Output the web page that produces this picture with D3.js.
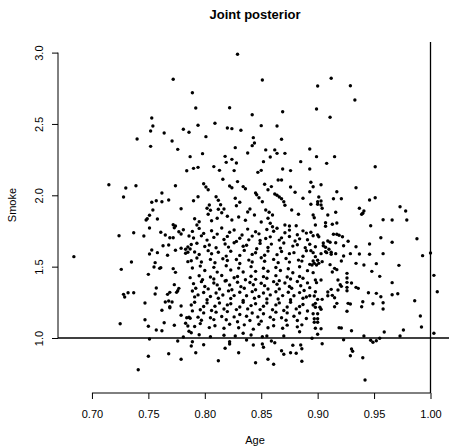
<!DOCTYPE html>
<html>
<head>
<meta charset="utf-8">
<script src="https://cdn.jsdelivr.net/npm/d3@7"></script>
<style>
  body { margin: 0; background: #fff; }
  svg { display: block; font-family: "Liberation Sans", Arial, sans-serif; }
</style>
</head>
<body>
<svg width="449" height="447"></svg>
<script>
// posterior draws, Age vs Smoke coefficient
const age = [
  0.772,0.753,0.754,0.752,0.764,0.781,0.786,0.740,0.771,0.752,0.776,0.787,
  0.829,0.851,0.789,0.792,0.822,0.869,0.842,0.794,0.809,0.820,0.824,0.832,0.850,0.864,0.801,0.843,0.868,0.844,
  0.842,0.827,0.854,0.862,0.893,0.798,0.818,0.838,0.858,0.864,0.871,0.824,
  0.912,0.900,0.929,0.933,0.899,0.911,0.899,0.915,
  0.784,0.715,0.730,0.739,0.774,0.728,0.762,0.753,0.757,0.762,0.768,0.779,0.754,0.751,0.748,0.749,0.758,0.751,
  0.772,0.774,0.773,0.781,0.777,0.761,0.779,0.737,0.724,0.746,0.765,0.786,0.769,0.772,0.684,0.763,0.768,0.779,
  0.783,0.785,0.787,0.774,0.753,0.751,0.758,0.767,0.783,0.785,0.785,0.756,0.735,0.726,0.760,0.761,0.772,0.774,
  0.755,0.750,
  0.757,0.773,0.777,0.776,0.775,0.769,0.767,0.756,0.728,0.729,0.732,0.737,0.747,0.765,0.768,0.771,0.769,0.769,
  0.779,0.762,0.779,0.784,0.786,0.747,0.725,0.764,0.783,0.785,0.750,0.773,0.757,0.762,0.786,0.781,0.751,0.776,
  0.768,0.750,0.779,0.741,
  0.896,0.913,0.948,0.926,0.955,1.003,0.898,0.899,0.903,0.918,0.926,0.920,0.921,0.926,0.930,0.926,0.934,0.936,
  0.966,0.893,1.006,0.898,0.909,0.912,0.918,0.926,0.945,0.952,0.966,0.971,0.893,0.897,0.900,0.904,0.909,0.913,
  0.915,0.956,0.898,0.896,0.898,0.902,0.903,0.917,0.915,0.927,0.929,0.940,0.939,0.949,0.958,0.958,0.986,0.926,
  0.896,0.900,0.897,0.900,0.897,0.900,0.991,0.898,0.903,0.919,0.921,0.930,0.959,0.976,0.992,0.900,0.941,0.973,
  1.003,0.895,0.923,0.947,0.949,0.952,0.955,0.904,0.930,0.931,0.929,0.940,0.942,
  0.951,0.893,0.908,0.894,0.896,0.903,0.934,0.917,0.893,0.901,0.914,0.921,0.951,0.946,0.900,0.903,0.900,0.903,
  0.894,0.904,0.937,0.941,0.939,0.940,0.973,0.978,0.896,0.897,0.909,0.916,0.958,0.966,0.979,0.907,0.907,0.913,
  0.917,0.898,0.947,0.894,0.896,0.900,0.901,0.914,0.917,0.919,0.922,0.956,0.988,0.893,0.898,0.905,0.909,0.911,
  0.916,0.927,0.923,0.946,0.966,0.905,0.907,0.910,0.934,0.894,0.896,0.903,0.907,0.908,0.912,0.916,0.912,0.929,
  0.937,0.946,0.958,0.993,1.000,0.898,0.923,0.896,0.904,0.900,0.911,0.921,0.934,0.941,0.952,0.972,0.893,0.895,
  0.897,0.899,0.901,0.915,0.917,
  // central band, upper half
  0.819,0.828,0.852,0.885,0.790,0.794,0.808,0.813,0.826,0.847,0.850,0.869,0.876,
  0.816,0.829,0.865,0.868,0.799,0.801,0.803,0.822,0.824,0.834,0.836,0.853,0.856,0.859,0.876,0.880,
  0.794,0.790,0.810,0.812,0.827,0.831,0.828,0.845,0.846,0.848,0.851,0.862,0.864,0.866,0.868,0.870,0.871,0.887,
  0.804,0.802,0.805,0.803,0.814,0.812,0.817,0.815,0.838,0.840,0.854,0.857,0.860,
  0.791,0.795,0.793,0.806,0.811,0.824,0.830,0.836,0.850,0.856,0.858,0.860,0.871,0.875,0.881,0.820,0.844,0.883,0.877,
  0.789,0.795,0.799,0.806,0.811,0.815,0.822,0.826,0.833,0.838,0.845,0.848,0.855,0.861,0.864,0.871,0.875,0.882,0.887,0.890,
  0.790,0.797,0.802,0.808,0.817,0.820,0.828,0.831,0.839,0.842,0.849,0.854,0.858,0.866,0.868,0.875,0.880,0.884,0.891,
  0.788,0.793,0.800,0.804,0.810,0.818,0.821,0.826,0.834,0.837,0.846,0.849,0.856,0.859,0.867,0.870,0.878,0.882,0.889,
  0.791,0.795,0.803,0.806,0.812,0.819,0.823,0.831,0.835,0.842,0.845,0.853,0.856,0.864,0.868,0.875,0.879,0.887,0.890,
  0.788,0.793,0.797,0.805,0.809,0.816,0.820,0.828,0.831,0.839,0.842,0.850,0.853,0.861,0.865,0.872,0.875,0.883,0.886,
  0.789,0.796,0.800,0.808,0.811,0.819,0.823,0.830,0.834,0.841,0.845,0.852,0.856,0.863,0.867,0.874,0.878,0.884,0.891,
  // central band, lower half
  0.787,0.795,0.798,0.805,0.808,0.815,0.819,0.826,0.829,0.836,0.841,0.845,0.852,0.855,0.863,0.866,0.873,0.876,0.884,0.887,
  0.790,0.797,0.800,0.808,0.811,0.818,0.822,0.829,0.832,0.840,0.843,0.850,0.853,0.861,0.864,0.871,0.875,0.882,0.885,0.891,
  0.789,0.792,0.799,0.803,0.810,0.813,0.821,0.824,0.831,0.835,0.842,0.845,0.852,0.856,0.863,0.866,0.874,0.877,0.884,0.888,
  0.791,0.794,0.802,0.805,0.812,0.816,0.823,0.826,0.834,0.837,0.844,0.848,0.855,0.858,0.865,0.869,0.876,0.879,0.887,0.890,
  0.788,0.791,0.799,0.802,0.809,0.813,0.820,0.823,0.831,0.834,0.841,0.845,0.852,0.855,0.863,0.866,0.873,0.876,0.884,0.887,
  0.789,0.796,0.799,0.806,0.810,0.817,0.820,0.828,0.831,0.838,0.842,0.849,0.852,0.860,0.863,0.870,0.873,0.881,0.884,0.891,
  0.787,0.794,0.797,0.805,0.808,0.815,0.819,0.826,0.829,0.837,0.840,0.847,0.850,0.858,0.861,0.868,0.872,0.879,0.882,0.890,
  0.791,0.796,0.804,0.809,0.817,0.822,0.830,0.835,0.843,0.848,0.856,0.861,0.869,0.873,0.882,0.886,
  0.788,0.795,0.805,0.817,0.827,0.834,0.841,0.851,0.855,0.870,0.884,
  0.789,0.788,0.792,0.799,0.812,0.818,0.822,0.822,0.830,0.837,0.845,0.843,0.851,0.852,0.856,0.861,0.859,0.862,
  0.868,0.870,0.876,0.878,0.881,0.885,0.886,0.886
];
const smoke = [
  2.813,2.542,2.486,2.451,2.437,2.463,2.442,2.395,2.381,2.343,2.322,2.271,
  2.988,2.808,2.719,2.612,2.614,2.586,2.565,2.491,2.505,2.472,2.467,2.456,2.488,2.486,2.411,2.404,2.393,2.367,
  2.348,2.334,2.318,2.318,2.325,2.292,2.273,2.296,2.268,2.294,2.294,2.252,
  2.820,2.766,2.768,2.668,2.605,2.547,2.271,2.271,
  2.172,2.074,2.051,2.067,2.067,1.988,2.016,1.951,1.962,1.955,1.967,1.906,1.897,1.860,1.827,1.836,1.834,1.771,
  1.794,1.785,1.773,1.759,1.745,1.741,1.729,1.738,1.717,1.715,1.722,1.715,1.703,1.703,1.570,1.647,1.652,1.629,
  1.622,1.638,1.624,1.615,1.617,1.589,1.598,1.580,1.594,1.601,1.535,1.528,1.533,1.481,1.488,1.493,1.486,1.460,
  1.498,1.446,
  1.350,1.374,1.348,1.331,1.320,1.320,1.306,1.308,1.306,1.287,1.317,1.317,1.245,1.252,1.259,1.252,1.219,1.212,
  1.224,1.194,1.159,1.142,1.145,1.128,1.100,1.107,1.103,1.084,1.082,1.089,1.056,1.051,1.047,1.007,0.993,0.979,
  0.890,0.872,0.851,0.778,
  1.458,1.463,1.467,1.453,1.432,1.439,1.406,1.388,1.406,1.406,1.420,1.374,1.362,1.390,1.385,1.355,1.355,1.348,
  1.388,1.353,1.324,1.324,1.322,1.341,1.336,1.331,1.317,1.313,1.303,1.310,1.296,1.294,1.271,1.271,1.296,1.299,
  1.282,1.289,1.243,1.231,1.215,1.215,1.201,1.243,1.219,1.243,1.238,1.254,1.219,1.240,1.247,1.203,1.261,1.187,
  1.170,1.170,1.135,1.135,1.110,1.110,1.154,1.068,1.065,1.072,1.070,1.051,1.042,1.056,1.077,1.026,1.014,1.014,
  1.033,0.998,0.988,0.984,0.970,0.981,0.998,0.960,0.923,0.907,0.876,0.862,0.706,
  2.200,2.184,2.224,2.091,2.060,2.074,2.053,2.025,2.025,1.988,1.976,1.976,1.983,1.967,1.955,1.960,1.937,1.932,
  1.937,1.909,1.909,1.890,1.867,1.874,1.920,1.890,1.862,1.843,1.862,1.881,1.829,1.827,1.827,1.808,1.783,1.797,
  1.806,1.792,1.787,1.741,1.717,1.722,1.710,1.727,1.727,1.720,1.710,1.703,1.696,1.657,1.640,1.666,1.680,1.671,
  1.668,1.678,1.647,1.659,1.671,1.647,1.636,1.622,1.640,1.612,1.598,1.591,1.605,1.598,1.601,1.591,1.587,1.591,
  1.589,1.587,1.591,1.577,1.596,1.570,1.575,1.540,1.535,1.545,1.514,1.540,1.523,1.512,1.521,1.509,1.516,1.512,
  1.523,1.512,1.523,1.488,1.479,
  // central band, upper half
  2.231,2.226,2.236,2.236,2.189,2.196,2.201,2.175,2.173,2.161,2.175,2.184,2.173,
  2.112,2.096,2.107,2.107,2.081,2.058,2.039,2.065,2.053,2.061,2.046,2.077,2.039,2.061,2.058,2.021,
  1.990,1.962,1.990,1.965,1.979,1.951,1.927,2.016,2.004,1.983,1.955,2.009,2.000,1.988,1.976,1.955,1.930,1.979,
  1.932,1.909,1.895,1.867,1.934,1.902,1.904,1.878,1.883,1.904,1.897,1.881,1.862,
  1.836,1.815,1.792,1.822,1.839,1.827,1.848,1.825,1.813,1.839,1.804,1.780,1.792,1.785,1.787,1.853,1.862,1.867,1.897,
  1.747,1.768,1.733,1.752,1.728,1.771,1.741,1.757,1.722,1.763,1.745,1.730,1.760,1.748,1.769,1.738,1.756,1.724,1.751,1.735,
  1.701,1.716,1.686,1.705,1.690,1.712,1.677,1.699,1.688,1.714,1.683,1.697,1.709,1.686,1.702,1.711,1.680,1.695,1.689,
  1.655,1.664,1.641,1.652,1.632,1.659,1.637,1.667,1.643,1.650,1.625,1.663,1.634,1.658,1.630,1.666,1.644,1.653,1.633,
  1.603,1.585,1.612,1.590,1.601,1.574,1.608,1.579,1.614,1.586,1.597,1.580,1.609,1.584,1.606,1.591,1.598,1.573,1.611,
  1.541,1.561,1.533,1.551,1.527,1.555,1.543,1.550,1.522,1.546,1.533,1.562,1.538,1.551,1.528,1.557,1.532,1.546,1.539,
  1.491,1.504,1.473,1.495,1.462,1.506,1.477,1.490,1.463,1.500,1.467,1.489,1.468,1.494,1.473,1.485,1.457,1.499,1.472,
  // central band, lower half
  1.423,1.436,1.409,1.427,1.414,1.438,1.403,1.422,1.431,1.408,1.433,1.411,1.430,1.419,1.437,1.402,1.428,1.413,1.431,1.419,
  1.381,1.395,1.361,1.385,1.372,1.399,1.371,1.391,1.360,1.389,1.373,1.384,1.367,1.395,1.377,1.385,1.361,1.396,1.366,1.386,
  1.329,1.349,1.319,1.344,1.315,1.343,1.330,1.338,1.321,1.349,1.325,1.338,1.315,1.343,1.324,1.344,1.321,1.349,1.318,1.333,
  1.288,1.302,1.268,1.291,1.279,1.301,1.277,1.297,1.263,1.296,1.279,1.291,1.274,1.302,1.273,1.297,1.268,1.296,1.279,1.287,
  1.231,1.251,1.221,1.246,1.223,1.245,1.232,1.240,1.217,1.251,1.227,1.240,1.223,1.245,1.232,1.246,1.217,1.251,1.221,1.235,
  1.190,1.198,1.176,1.193,1.181,1.203,1.185,1.199,1.165,1.204,1.175,1.199,1.170,1.198,1.181,1.193,1.176,1.204,1.175,1.189,
  1.138,1.146,1.124,1.142,1.129,1.151,1.128,1.148,1.114,1.152,1.123,1.148,1.118,1.146,1.129,1.142,1.124,1.152,1.123,1.137,
  1.081,1.101,1.073,1.086,1.068,1.096,1.072,1.092,1.062,1.096,1.072,1.086,1.068,1.090,1.078,1.092,
  1.037,1.023,1.009,1.019,1.014,1.033,1.021,1.009,1.014,1.014,1.044,
  0.974,0.944,0.897,0.953,0.841,0.928,0.974,0.958,0.897,0.986,0.827,0.951,0.958,0.935,0.851,0.816,0.979,0.967,
  0.911,0.886,0.897,0.949,0.893,0.951,0.925,0.837
];
const xTicks = [0.70, 0.75, 0.80, 0.85, 0.90, 0.95, 1.00];
const yTicks = [1.0, 1.5, 2.0, 2.5, 3.0];
const refAge = 1.0, refSmoke = 1.0;

const svg = d3.select("svg"),
  plot = { left: 58, right: 452, top: 42, bottom: 393 };

// R-style user coordinates (4% padding round the data)
const x = d3.scaleLinear().domain([0.66992, 1.01905]).range([plot.left, plot.right]);
const y = d3.scaleLinear().domain([0.6146, 3.0743]).range([plot.bottom, plot.top]);

const ink = "#000";

// reference lines
svg.append("line")
  .attr("x1", plot.left).attr("x2", plot.right)
  .attr("y1", y(refSmoke)).attr("y2", y(refSmoke))
  .attr("stroke", ink).attr("stroke-width", 1.3);
svg.append("line")
  .attr("x1", x(refAge)).attr("x2", x(refAge))
  .attr("y1", plot.top).attr("y2", plot.bottom)
  .attr("stroke", ink).attr("stroke-width", 1.3);

// points
svg.append("g")
  .selectAll("circle")
  .data(age.map((a, i) => ({ a, s: smoke[i] })))
  .enter()
  .append("circle")
  .attr("cx", (d) => x(d.a))
  .attr("cy", (d) => y(d.s))
  .attr("r", 1.7)
  .attr("fill", ink);

// x axis, line only between first and last tick
const gx = svg.append("g")
  .attr("transform", `translate(0,${plot.bottom})`)
  .call(d3.axisBottom(x).tickValues(xTicks).tickFormat(d3.format(".2f")).tickSize(6).tickPadding(11));
gx.select(".domain").remove();
gx.append("line")
  .attr("x1", x(xTicks[0])).attr("x2", x(xTicks[xTicks.length - 1]))
  .attr("stroke", ink);
gx.selectAll("text").attr("font-size", 11).attr("font-family", null).attr("fill", ink);

// y axis with rotated labels
const gy = svg.append("g")
  .attr("transform", `translate(${plot.left},0)`)
  .call(d3.axisLeft(y).tickValues(yTicks).tickFormat(d3.format(".1f")).tickSize(6));
gy.select(".domain").remove();
gy.append("line")
  .attr("y1", y(yTicks[0])).attr("y2", y(yTicks[yTicks.length - 1]))
  .attr("stroke", ink);
gy.selectAll(".tick text")
  .attr("x", null).attr("dy", null)
  .attr("transform", "translate(-15.5,0) rotate(-90)")
  .attr("text-anchor", "middle")
  .attr("font-size", 11).attr("font-family", null).attr("fill", ink);

// titles
svg.append("text")
  .attr("x", (plot.left + plot.right) / 2).attr("y", 18.5)
  .attr("text-anchor", "middle")
  .attr("font-size", 13).attr("font-weight", "bold")
  .text("Joint posterior");
svg.append("text")
  .attr("x", (plot.left + plot.right) / 2).attr("y", 444)
  .attr("text-anchor", "middle")
  .attr("font-size", 11)
  .text("Age");
svg.append("text")
  .attr("transform", "translate(16,205) rotate(-90)")
  .attr("text-anchor", "middle")
  .attr("font-size", 11)
  .text("Smoke");
</script>
</body>
</html>
